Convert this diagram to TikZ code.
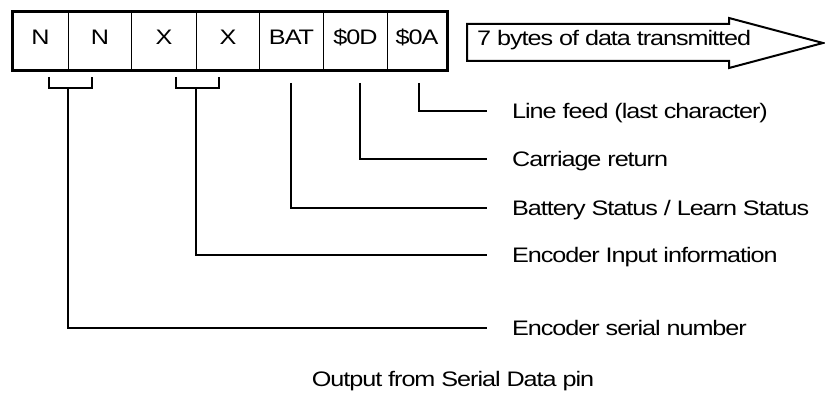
\documentclass[tikz,border=0pt]{standalone}
\usepackage{fontspec}
\setmainfont{Liberation Sans}[FakeStretch=1.2,LetterSpace=-5]
\begin{document}
\begin{tikzpicture}[x=1pt,y=-1pt,
  every node/.style={font=\fontsize{21}{25}\selectfont},
  cell/.style={draw,line width=1pt,anchor=north west,minimum height=58pt,inner sep=0pt,text height=15pt,text depth=9pt},
  lbl/.style={anchor=west,inner sep=0pt,text height=15pt,text depth=0pt},
  conn/.style={line width=1.1pt}]
\useasboundingbox (0,0) rectangle (825,393);
% cells
\node[cell,minimum width=56pt] (c1) at (12,12) {N};
\node[cell,minimum width=63pt] (c2) at (68,12) {N};
\node[cell,minimum width=65pt] (c3) at (131,12) {X};
\node[cell,minimum width=63pt] (c4) at (196,12) {X};
\node[cell,minimum width=64pt] (c5) at (259,12) {BAT};
\node[cell,minimum width=64pt] (c6) at (323,12) {\$0D};
\node[cell,minimum width=59pt] (c7) at (387,12) {\$0A};
\draw[line width=3pt] (c1.north west) rectangle (c7.south east);
% arrow
\draw[line width=2pt,line join=miter] (467,24) -- (729,24) -- (729,18) -- (823,43) -- (729,68) -- (729,61) -- (467,61) -- cycle;
\node[lbl] (arr) at (477,38) {7 bytes of data transmitted};
% labels
\node[lbl] (lf) at (512,111) {Line feed (last character)};
\node[lbl] (cr) at (512,159) {Carriage return};
\node[lbl] (bat) at (512,208) {Battery Status / Learn Status};
\node[lbl] (inp) at (512,255) {Encoder Input information};
\node[lbl] (ser) at (512,328) {Encoder serial number};
\node[anchor=center,inner sep=0pt,text height=15pt,text depth=0pt] (cap) at (453,379) {Output from Serial Data pin};
% connectors
\coordinate (nl) at (49,77);
\coordinate (nr) at (92,77);
\coordinate (nb) at (68,88);
\draw[conn] (nl) |- (nb) -| (nr);
\draw[conn] (nb) |- ([xshift=-25pt]ser.west);
\coordinate (xl) at (176,77);
\coordinate (xr) at (219,77);
\coordinate (xb) at (196,88);
\draw[conn] (xl) |- (xb) -| (xr);
\draw[conn] (xb) |- ([xshift=-25pt]inp.west);
\coordinate (bt) at (291,83);
\draw[conn] (bt) |- ([xshift=-25pt]bat.west);
\coordinate (dt) at (360,83);
\draw[conn] (dt) |- ([xshift=-25pt]cr.west);
\coordinate (at) at (419,83);
\draw[conn] (at) |- ([xshift=-25pt]lf.west);
\end{tikzpicture}
\end{document}
